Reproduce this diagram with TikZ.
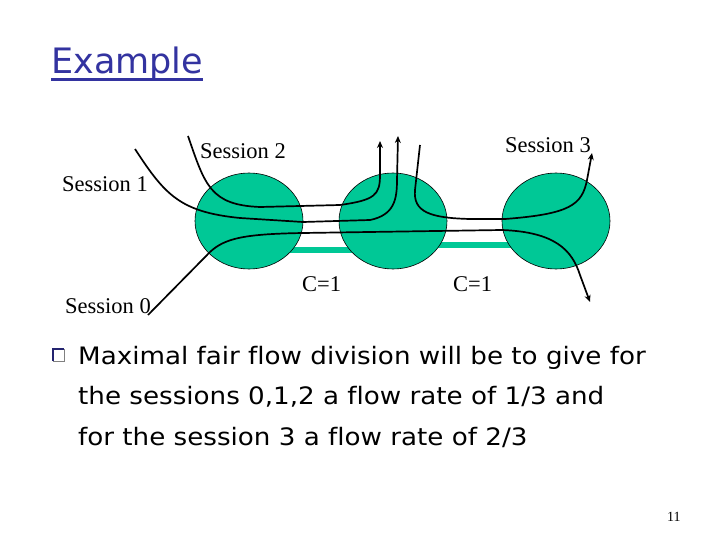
\documentclass[tikz,border=0pt]{standalone}
\usepackage{fontspec}
\setmainfont{Liberation Serif}
\newfontfamily\comicfont[FakeStretch=1.09,Ligatures={NoCommon}]{DejaVu Sans}
\newfontfamily\titlefont[Ligatures={NoCommon}]{DejaVu Sans}
\usetikzlibrary{arrows.meta,shapes.geometric}
\definecolor{nodegreen}{RGB}{0,200,150}
\definecolor{titleblue}{RGB}{51,51,160}
\tikzset{
  router/.style={ellipse,draw=black,line width=0.6pt,fill=nodegreen,minimum width=108pt,minimum height=96pt,inner sep=0pt},
  link/.style={draw=nodegreen,line width=6pt},
  flow/.style={draw=black,line width=1.7pt},
  flowarrow/.style={flow,-{Stealth[length=7pt,width=6pt]}},
  lbl/.style={font=\fontsize{22.5}{26}\selectfont,anchor=base west,inner sep=0pt},
  body/.style={font=\comicfont\fontsize{24}{28}\selectfont,anchor=base west,inner sep=0pt},
}
\begin{document}
\begin{tikzpicture}[x=1pt,y=-1pt]
\useasboundingbox (0,0) rectangle (720,540);
% links
\coordinate (l1a) at (249,250); \coordinate (l1b) at (393,250);
\coordinate (l2a) at (393,245); \coordinate (l2b) at (556,245);
\draw[link] (l1a) -- (l1b);
\draw[link] (l2a) -- (l2b);
% routers
\node[router] (n1) at (249,221) {};
\node[router] (n2) at (393,221) {};
\node[router] (n3) at (556,221) {};
% title
\node[anchor=base west,inner sep=0pt,text=titleblue,font=\titlefont\fontsize{35}{40}\selectfont] (title) at (51,74) {Example};
\draw[titleblue,line width=3pt] (51,80) -- (title.east |- 0,80);
% flows
\coordinate (s0) at (148,315); \coordinate (e0) at (590,302);
\coordinate (s1) at (135,149); \coordinate (e1) at (398,136);
\coordinate (s2) at (188,136); \coordinate (e2) at (380,141);
\coordinate (s3) at (420,145); \coordinate (e3) at (592,153);
\draw[flowarrow] (s0) -- (210,252) .. controls (225,238) and (245,234) .. (303,233) -- (502,230) .. controls (555,232) and (572,250) .. (580,275) -- (e0);
\draw[flowarrow] (s1) .. controls (165,195) and (180,212) .. (240,218) -- (303,222) -- (370,220) .. controls (394,215) and (397,200) .. (397,180) -- (e1);
\draw[flowarrow] (s2) .. controls (205,185) and (210,205) .. (260,207) -- (340,205) .. controls (375,200) and (380,195) .. (380,175) -- (e2);
\draw[flowarrow] (s3) -- (415,190) .. controls (413,212) and (430,218) .. (470,219) -- (505,219) .. controls (570,214) and (582,205) .. (587,180) -- (e3);
% labels
\node[lbl] (ls2) at (200,159) {Session 2};
\node[lbl] (ls3) at (505,153) {Session 3};
\node[lbl] (ls1) at (62,192) {Session 1};
\node[lbl] (ls0) at (65,313) {Session 0};
\node[lbl] (c1) at (302,291) {C=1};
\node[lbl] (c2) at (453,291) {C=1};
% bullet
\draw[gray,line width=0.6pt] (53,349) rectangle (64,361);
\draw[titleblue!70!black,line width=2pt] (53,361) -- (53,349) -- (64,349);
% body text
\node[body] (b1) at (78,364) {Maximal fair flow division will be to give for};
\node[body] (b2) at (78,404) {the sessions 0,1,2 a flow rate of 1/3 and};
\node[body] (b3) at (78,445) {for the session 3 a flow rate of 2/3};
% page number
\node[anchor=base west,inner sep=0pt,font=\fontsize{14}{16}\selectfont] (pg) at (667,521) {11};
\end{tikzpicture}
\end{document}
